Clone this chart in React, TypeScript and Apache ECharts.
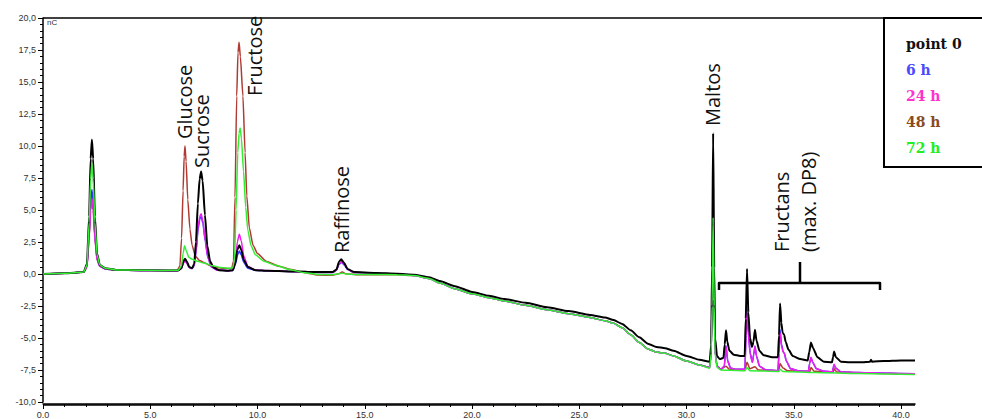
import React, { useEffect, useRef } from "react";
import * as echarts from "echarts";

type P = [number, number];

// shared slow baseline drift of the sample traces (min, nC)
const drift: P[] = [[17.3,-0.12],[18.0,-0.35],[18.5,-0.7],[19.2,-1.15],[20.0,-1.55],[20.8,-1.85],[21.5,-2.1],[22.5,-2.45],[23.5,-2.8],[24.5,-3.1],[25.5,-3.4],[26.2,-3.65],[26.6,-3.85],[27.0,-4.2],[27.4,-4.75],[27.8,-5.35],[28.2,-5.85],[28.6,-6.1],[29.0,-6.2],[29.4,-6.4],[30.0,-6.8],[30.6,-7.1]];

const point0: P[] = [[0,0],[1,0.05],[1.9,0.15],[2.05,0.8],[2.15,4.5],[2.22,9.0],[2.28,10.5],[2.34,9.0],[2.42,4.5],[2.52,1.6],[2.65,0.7],[2.9,0.45],[3.4,0.32],[4.5,0.3],[5.5,0.28],[6.3,0.28],[6.45,0.45],[6.55,1.0],[6.62,1.2],[6.7,1.0],[6.82,0.55],[6.95,0.45],[7.05,0.8],[7.13,2.5],[7.22,5.5],[7.3,7.4],[7.37,8.0],[7.44,7.3],[7.55,4.6],[7.66,2.2],[7.79,1.0],[7.95,0.5],[8.2,0.3],[8.6,0.25],[8.85,0.3],[8.97,0.9],[9.06,1.9],[9.15,2.25],[9.24,1.9],[9.36,1.1],[9.55,0.55],[9.9,0.3],[10.5,0.25],[11.5,0.2],[12.3,0.18],[13.0,0.15],[13.5,0.15],[13.68,0.35],[13.8,0.95],[13.9,1.15],[14.02,0.9],[14.2,0.4],[14.5,0.15],[15.5,0.08],[16.5,0.02],[17.3,-0.05],[18.0,-0.25],[18.5,-0.55],[19.2,-0.95],[20.0,-1.4],[20.8,-1.7],[21.5,-1.95],[22.5,-2.25],[23.5,-2.6],[24.5,-2.9],[25.5,-3.2],[26.2,-3.4],[26.6,-3.6],[27.0,-3.9],[27.4,-4.4],[27.8,-4.95],[28.2,-5.45],[28.6,-5.7],[29.0,-5.8],[29.4,-6.0],[30.0,-6.4],[30.6,-6.7],[31.08,-6.85],[31.15,-5.5],[31.19,0.5],[31.24,11.0],[31.29,0.5],[31.33,-5.0],[31.42,-6.4],[31.55,-6.65],[31.72,-6.55],[31.78,-5.5],[31.84,-4.4],[31.9,-5.3],[32.0,-6.0],[32.2,-6.3],[32.5,-6.4],[32.71,-6.4],[32.76,-3.5],[32.82,0.4],[32.88,-3.0],[32.96,-5.0],[33.05,-5.7],[33.12,-5.3],[33.19,-4.35],[33.26,-5.2],[33.4,-6.0],[33.6,-6.35],[34.0,-6.5],[34.26,-6.5],[34.31,-4.8],[34.36,-2.3],[34.42,-3.8],[34.48,-4.6],[34.55,-4.75],[34.62,-5.3],[34.75,-5.9],[34.95,-6.4],[35.3,-6.65],[35.65,-6.75],[35.72,-6.1],[35.8,-5.35],[35.9,-5.8],[36.1,-6.5],[36.4,-6.85],[36.78,-6.9],[36.83,-6.5],[36.88,-6.05],[36.96,-6.5],[37.2,-6.85],[37.6,-6.9],[38.2,-6.9],[38.55,-6.85],[38.6,-6.7],[38.65,-6.85],[39.2,-6.8],[40.0,-6.75],[40.65,-6.75]];

const h6Head: P[] = [[0,0],[1,0.05],[1.9,0.15],[2.05,0.6],[2.15,3.0],[2.22,5.6],[2.28,6.6],[2.34,5.6],[2.42,3.0],[2.52,1.2],[2.65,0.6],[2.9,0.4],[3.4,0.3],[4.5,0.28],[5.5,0.27],[6.3,0.27],[6.45,0.45],[6.55,0.95],[6.62,1.1],[6.7,0.9],[6.82,0.5],[6.95,0.42],[7.05,0.65],[7.14,1.8],[7.23,3.5],[7.31,4.3],[7.37,4.5],[7.45,4.0],[7.56,2.6],[7.68,1.3],[7.85,0.55],[8.1,0.32],[8.6,0.25],[8.85,0.28],[8.98,0.8],[9.07,1.5],[9.15,1.8],[9.24,1.5],[9.36,0.9],[9.55,0.45],[9.9,0.3],[10.5,0.25],[11.5,0.2],[12.3,0.17],[13.0,0.12],[13.5,0.12],[13.68,0.3],[13.8,0.75],[13.92,0.9],[14.05,0.7],[14.2,0.35],[14.5,0.12],[15.5,0.05],[16.5,0.0]];
const h6Tail: P[] = [[31.08,-7.3],[31.15,-6.0],[31.19,-2.0],[31.24,4.8],[31.29,-2.0],[31.33,-6.0],[31.42,-7.2],[31.6,-7.45],[31.76,-7.2],[31.84,-5.6],[31.92,-6.8],[32.05,-7.35],[32.3,-7.45],[32.72,-7.45],[32.77,-4.8],[32.82,-2.5],[32.88,-4.6],[32.97,-6.2],[33.07,-6.9],[33.13,-6.3],[33.19,-5.65],[33.26,-6.4],[33.4,-7.2],[33.7,-7.5],[34.26,-7.55],[34.31,-6.2],[34.36,-4.35],[34.43,-5.5],[34.5,-6.05],[34.56,-6.2],[34.65,-6.8],[34.85,-7.4],[35.3,-7.6],[35.68,-7.6],[35.74,-7.0],[35.8,-6.55],[35.88,-6.9],[36.05,-7.4],[36.4,-7.6],[36.8,-7.65],[36.84,-7.3],[36.88,-7.1],[36.95,-7.35],[37.2,-7.65],[38.0,-7.7],[38.6,-7.72],[39.5,-7.75],[40.65,-7.8]];

const h24Head: P[] = [[0,0],[1,0.05],[1.9,0.15],[2.05,0.55],[2.15,2.8],[2.22,5.0],[2.28,5.9],[2.34,5.0],[2.42,2.8],[2.52,1.1],[2.65,0.6],[2.9,0.4],[3.4,0.3],[4.5,0.28],[5.5,0.27],[6.3,0.27],[6.45,0.42],[6.55,0.85],[6.62,1.0],[6.7,0.85],[6.82,0.5],[6.95,0.45],[7.05,0.7],[7.14,1.9],[7.23,3.7],[7.31,4.5],[7.37,4.7],[7.45,4.2],[7.56,2.7],[7.68,1.35],[7.85,0.55],[8.1,0.32],[8.6,0.25],[8.85,0.3],[8.97,1.1],[9.06,2.5],[9.15,3.1],[9.24,2.6],[9.36,1.4],[9.55,0.6],[9.9,0.32],[10.5,0.25],[11.5,0.2],[12.3,0.17],[13.0,0.12],[13.5,0.12],[13.68,0.3],[13.8,0.8],[13.92,0.95],[14.05,0.75],[14.2,0.35],[14.5,0.12],[15.5,0.06],[16.5,0.0]];
const h24Tail: P[] = [[31.08,-7.3],[31.15,-6.0],[31.19,-2.0],[31.24,5.0],[31.29,-2.0],[31.33,-6.0],[31.42,-7.2],[31.6,-7.45],[31.76,-7.2],[31.84,-5.65],[31.92,-6.8],[32.05,-7.35],[32.3,-7.45],[32.72,-7.45],[32.77,-5.0],[32.82,-2.9],[32.88,-4.8],[32.97,-6.3],[33.07,-6.9],[33.13,-6.3],[33.19,-5.65],[33.26,-6.4],[33.4,-7.2],[33.7,-7.5],[34.26,-7.55],[34.31,-6.3],[34.36,-4.6],[34.43,-5.6],[34.5,-6.1],[34.56,-6.2],[34.65,-6.8],[34.85,-7.4],[35.3,-7.6],[35.68,-7.6],[35.74,-7.0],[35.8,-6.5],[35.88,-6.9],[36.05,-7.4],[36.4,-7.6],[36.8,-7.65],[36.84,-7.3],[36.88,-7.05],[36.95,-7.35],[37.2,-7.65],[38.0,-7.7],[38.6,-7.72],[39.5,-7.75],[40.65,-7.8]];

const h48Head: P[] = [[0,0],[1,0.05],[1.9,0.15],[2.05,0.55],[2.15,2.8],[2.22,5.0],[2.28,5.9],[2.34,5.0],[2.42,2.8],[2.52,1.1],[2.65,0.6],[2.9,0.4],[3.4,0.3],[4.5,0.28],[5.5,0.27],[6.25,0.28],[6.38,0.6],[6.46,2.8],[6.53,6.5],[6.58,9.2],[6.62,10.0],[6.67,8.8],[6.75,5.8],[6.85,3.5],[6.95,2.25],[7.1,1.4],[7.3,1.05],[7.5,0.9],[7.8,0.65],[8.1,0.5],[8.5,0.42],[8.8,0.45],[8.88,1.0],[8.95,6.0],[9.03,13.9],[9.09,17.3],[9.14,18.1],[9.2,17.0],[9.32,13.9],[9.42,9.5],[9.5,6.1],[9.62,3.6],[9.79,2.25],[10.0,1.6],[10.4,1.0],[11.0,0.6],[11.6,0.35],[12.2,0.1],[12.8,-0.08],[13.5,-0.1],[13.75,0.0],[13.95,0.15],[14.15,0.0],[14.6,-0.05],[15.5,-0.05],[16.5,-0.06]];
const h48Tail: P[] = [[31.08,-7.3],[31.15,-6.0],[31.19,-2.0],[31.24,4.6],[31.29,-2.0],[31.33,-6.0],[31.42,-7.2],[31.6,-7.45],[31.84,-7.2],[32.0,-7.45],[32.72,-7.5],[32.82,-6.9],[32.95,-7.4],[33.19,-7.25],[33.35,-7.5],[34.3,-7.55],[34.36,-7.0],[34.5,-7.35],[34.7,-7.55],[35.75,-7.62],[35.8,-7.3],[35.95,-7.6],[36.84,-7.65],[36.88,-7.4],[37.0,-7.65],[38.0,-7.72],[39.5,-7.77],[40.65,-7.82]];

const h72Head: P[] = [[0,0],[1,0.05],[1.9,0.15],[2.05,0.7],[2.15,4.0],[2.22,7.4],[2.28,8.7],[2.34,7.4],[2.42,4.0],[2.52,1.5],[2.65,0.7],[2.9,0.45],[3.4,0.32],[4.5,0.3],[5.5,0.28],[6.3,0.3],[6.45,0.6],[6.53,1.6],[6.6,2.2],[6.68,1.8],[6.8,1.3],[6.95,1.15],[7.2,1.0],[7.5,0.85],[7.9,0.65],[8.3,0.5],[8.7,0.45],[8.85,0.5],[8.93,1.2],[9.0,5.0],[9.08,9.5],[9.14,11.0],[9.19,11.4],[9.25,10.6],[9.35,8.0],[9.45,5.2],[9.55,3.4],[9.7,2.2],[9.9,1.5],[10.3,1.0],[10.8,0.7],[11.5,0.35],[12.2,0.1],[12.8,-0.03],[13.5,-0.05],[13.75,0.0],[13.95,0.06],[14.15,0.0],[14.6,-0.03],[15.5,-0.03],[16.5,-0.05]];
const h72Tail: P[] = [[31.08,-7.35],[31.15,-6.2],[31.19,-2.5],[31.24,4.4],[31.29,-2.5],[31.33,-6.2],[31.42,-7.3],[31.6,-7.5],[32.0,-7.52],[32.72,-7.55],[32.82,-7.3],[32.95,-7.55],[34.3,-7.62],[34.36,-7.45],[34.5,-7.62],[36.0,-7.7],[38.0,-7.78],[40.65,-7.85]];

const seriesNames = ["point 0", "6 h", "24 h", "48 h", "72 h"];
const lineColors = ["#000000", "#3535ff", "#f01cf0", "#b03a32", "#33ee33"];
const legendColors = ["#111111", "#4a4aff", "#ff33cc", "#8b4a1e", "#22ee22"];
const xTicks = [0, 5, 10, 15, 20, 25, 30, 35, 40];

const peakLabels = [
  { text: "Glucose", x: 184, y: 139 },
  { text: "Sucrose", x: 201, y: 168 },
  { text: "Fructose", x: 254, y: 96 },
  { text: "Raffinose", x: 341, y: 253 },
  { text: "Maltos", x: 712, y: 126 },
  { text: "Fructans", x: 781, y: 252 },
  { text: "(max. DP8)", x: 808, y: 252 },
];

export default function App() {
  const ref = useRef<HTMLDivElement>(null);
  useEffect(() => {
    if (!ref.current) return;
    const chart = echarts.init(ref.current, null, { renderer: "svg" });
    const dataSets: P[][] = [
      point0,
      [...h6Head, ...drift, ...h6Tail],
      [...h24Head, ...drift, ...h24Tail],
      [...h48Head, ...drift, ...h48Tail],
      [...h72Head, ...drift, ...h72Tail],
    ];
    const order = [3, 1, 2, 0, 4];
    const series = order.map((i) => ({
      name: seriesNames[i],
      type: "line",
      data: dataSets[i],
      showSymbol: false,
      symbol: "none",
      smooth: 0.2,
      smoothMonotone: "x",
      z: 2 + order.indexOf(i),
      lineStyle: { color: lineColors[i], width: i === 0 ? 2 : 1.5 },
      itemStyle: { color: lineColors[i] },
    }));
    const labelFont = '20px "Open Sans"';
    chart.setOption({
      animation: false,
      backgroundColor: "#ffffff",
      grid: { left: 43, right: 67, top: 18, bottom: 14, containLabel: false },
      xAxis: {
        type: "value",
        min: 0,
        max: 40.65,
        interval: 5,
        offset: 2,
        axisLine: { show: true, onZero: false, lineStyle: { color: "#000", width: 1.5 } },
        axisTick: { show: true, length: 5, lineStyle: { color: "#000" }, customValues: xTicks },
        minorTick: { show: true, splitNumber: 5, length: 3, lineStyle: { color: "#000" } },
        axisLabel: {
          margin: 6,
          fontSize: 9,
          color: "#333",
          fontFamily: "Liberation Sans",
          customValues: xTicks,
          formatter: (v: number) => v.toFixed(1),
        },
        splitLine: { show: false },
      },
      yAxis: {
        type: "value",
        min: -10,
        max: 20,
        interval: 2.5,
        axisLine: { show: true, lineStyle: { color: "#000", width: 1.5 } },
        axisTick: { show: true, length: 5, lineStyle: { color: "#000" } },
        minorTick: { show: true, splitNumber: 5, length: 3, lineStyle: { color: "#000" } },
        axisLabel: {
          margin: 7,
          fontSize: 9,
          color: "#333",
          fontFamily: "Liberation Sans",
          formatter: (v: number) => v.toFixed(1).replace(".", ","),
        },
        splitLine: { show: false },
      },
      legend: {
        orient: "vertical",
        left: 884,
        top: 18,
        padding: [19, 8, 12, 17],
        itemGap: 12,
        itemWidth: 0,
        itemHeight: 14,
        icon: "none",
        borderWidth: 0,
        selectedMode: false,
        textStyle: { fontFamily: "DejaVu Serif", fontWeight: "bold", fontSize: 14 },
        data: seriesNames.map((n, i) => ({ name: n, textStyle: { color: legendColors[i] } })),
        z: 10,
      },
      graphic: [
        { type: "line", shape: { x1: 43, y1: 18, x2: 884, y2: 18 }, style: { stroke: "#000", lineWidth: 1.5 }, z: 5 },
        { type: "line", shape: { x1: 43, y1: 405, x2: 915, y2: 405 }, style: { stroke: "#000", lineWidth: 1.5 }, z: 5 },
        { type: "rect", shape: { x: 884, y: 18, width: 110, height: 149 }, style: { fill: "#ffffff", lineWidth: 0 }, z: 8 },
        {
          type: "polyline",
          shape: { points: [[990, 18], [884, 18], [884, 167], [990, 167]] },
          style: { stroke: "#000", lineWidth: 2, fill: null },
          z: 9,
        },
        { type: "text", x: 47, y: 22, style: { text: "nC", font: '8px "Liberation Sans"', fill: "#333", align: "left", verticalAlign: "middle" } },
        ...peakLabels.map((l) => ({
          type: "text",
          x: l.x,
          y: l.y,
          rotation: Math.PI / 2,
          style: { text: l.text, font: labelFont, fill: "#111", align: "left", verticalAlign: "middle" },
          z: 6,
        })),
        {
          type: "polyline",
          shape: { points: [[719, 290], [719, 283], [880, 283], [880, 290]] },
          style: { stroke: "#000", lineWidth: 2.5, fill: null, lineJoin: "round" },
          z: 6,
        },
        { type: "line", shape: { x1: 800, y1: 283, x2: 800, y2: 262 }, style: { stroke: "#000", lineWidth: 2.5 }, z: 6 },
      ],
      series,
    });
    return () => chart.dispose();
  }, []);
  return <div ref={ref} style={{ position: "fixed", left: 0, top: 0, width: 982, height: 419 }} />;
}
